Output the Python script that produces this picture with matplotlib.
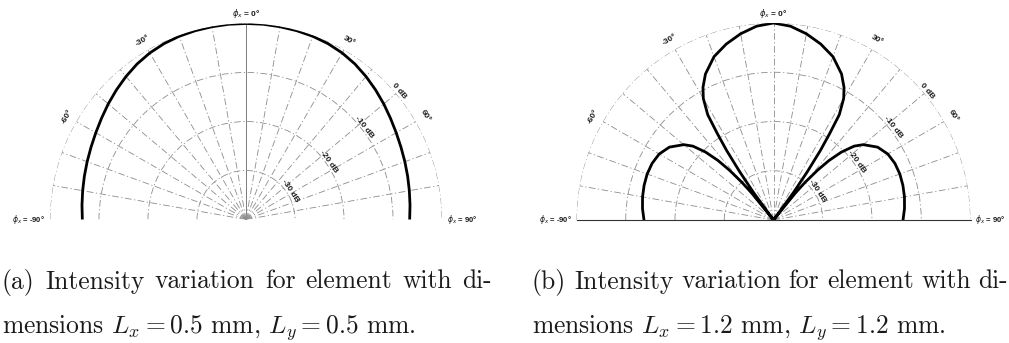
import numpy as np
import matplotlib.pyplot as plt

# (a) element 0.5 mm x 0.5 mm: intensity in dB over phi_x (deg)
angle_a = [-90, -85, -80, -75, -70, -65, -60, -55, -50, -45, -40, -35, -30, -25, -20, -15, -10, -5,
           0, 5, 10, 15, 20, 25, 30, 35, 40, 45, 50, 55, 60, 65, 70, 75, 80, 85, 90]
db_a = [-6.6, -6.4, -6.15, -5.85, -5.5, -5.1, -4.6, -4.0, -3.3, -2.6, -1.9, -1.25, -0.75, -0.4, -0.2, -0.1, -0.05, 0.0,
        0.0, 0.0, -0.05, -0.1, -0.2, -0.4, -0.75, -1.25, -1.9, -2.6, -3.3, -4.0, -4.6, -5.1, -5.5, -5.85, -6.15, -6.4, -6.6]

# (b) element 1.2 mm x 1.2 mm
angle_b = [-90, -85, -80, -75, -70, -65, -60, -55, -50, -47.5, -45, -43, -41.5, -40, -39, -37.5,
           -36, -35, -34, -33, -32, -30, -28, -25, -20, -15, -10, -5,
           0, 5, 10, 15, 20, 25, 28, 30, 32, 33, 34, 35, 36,
           37.5, 39, 40, 41.5, 43, 45, 47.5, 50, 55, 60, 65, 70, 75, 80, 85, 90]
db_b = [-13.7, -13.3, -13.0, -12.8, -12.7, -12.8, -13.2, -14.2, -16.2, -17.8, -20.5, -23.5, -26.5, -30.0, -33.0, -40.0,
        -33.0, -28.0, -23.0, -19.0, -14.8, -11.5, -9.5, -7.3, -4.7, -3.0, -1.6, -0.5,
        0.0, -0.5, -1.6, -3.0, -4.7, -7.3, -9.5, -11.5, -14.8, -19.0, -23.0, -28.0, -33.0,
        -40.0, -33.0, -30.0, -26.5, -23.5, -20.5, -17.8, -16.2, -14.2, -13.2, -12.8, -12.7, -12.8, -13.0, -13.3, -13.7]

ring_db = [-30, -20, -10, 0]
ring_labels = ["-30 dB", "-20 dB", "-10 dB", "0 dB"]
ring_label_deg = [57, 55, 52, 50]
spoke_deg = list(range(-80, 81, 10))
angle_label_deg = [-60, -30, 30, 60]

captions = {
    "a": ["(a) Intensity variation for element with di-",
          r"mensions $L_x = 0.5$ mm, $L_y = 0.5$ mm."],
    "b": ["(b) Intensity variation for element with di-",
          r"mensions $L_x = 1.2$ mm, $L_y = 1.2$ mm."],
}

W, H = 1009, 343
GRID = "#8c8c8c"
LBL = dict(fontsize=6, color="#1a1a1a", family="Liberation Sans", weight="bold",
           math_fontfamily="dejavusans")
SIDE = dict(LBL, fontsize=5.5)


def polar_panel(fig, cx, cy, R, angle, db, baseline):
    # Halbkreis liegt mittig in einer quadratischen Box der Kantenlaenge 2R
    rect = [(cx - R) / W, (H - cy - R / 2) / H, 2 * R / W, 2 * R / H]
    ax = fig.add_axes(rect, projection="polar")
    ax.set_theta_zero_location("N")
    ax.set_theta_direction(-1)
    ax.set_thetamin(-90)
    ax.set_thetamax(90)
    ax.set_ylim(-40, 0)
    ax.set_xticks(np.radians(spoke_deg))
    ax.set_yticks(ring_db)
    ax.set_xticklabels([])
    ax.set_yticklabels([])
    ax.tick_params(length=0)
    ax.grid(True, color=GRID, linestyle=(0, (8, 3, 1.5, 3)), linewidth=0.6)
    ax.yaxis.get_gridlines()[-1].set_color("#555555")
    if not baseline:
        # Mittellinie durchgezogen
        ax.xaxis.get_gridlines()[spoke_deg.index(0)].set_linestyle("-")
        ax.xaxis.get_gridlines()[spoke_deg.index(0)].set_color("#666666")
    ax.spines["polar"].set_visible(False)
    for side in ("start", "end"):
        # Sichtbarkeit setzt PolarAxes selbst, daher ueber Farbe/Breite steuern
        ax.spines[side].set_color("#333333" if baseline else "none")
        ax.spines[side].set_linewidth(0.8 if baseline else 0)

    ax.plot(np.radians(angle), db, color="black", linewidth=2.0)

    ax.text(0, 2.0, r"$\phi_x$ = 0°", ha="center", va="center", **LBL)
    ax.text(np.radians(-90), 1.0, r"$\phi_x$ = -90°", ha="right", va="center", **SIDE)
    ax.text(np.radians(90), 1.0, r"$\phi_x$ = 90°", ha="left", va="center", **SIDE)
    for a in angle_label_deg:
        ax.text(np.radians(a), 2.2, f"{a}°", rotation=-a, rotation_mode="anchor",
                ha="center", va="center", **LBL)
    for r, txt, a in zip(ring_db, ring_labels, ring_label_deg):
        ax.text(np.radians(a), r + 0.7, txt, rotation=-a, rotation_mode="anchor",
                ha="center", va="center", **LBL)
    return ax


def justified_line(fig, x0, y, line, width_px, **kw):
    # Blocksatz: Woerter gleichmaessig auf die Zeilenbreite verteilen
    renderer = fig.canvas.get_renderer()
    words = line.split(" ")
    texts = [fig.text(0, y, w, **kw) for w in words]
    widths = [t.get_window_extent(renderer).width for t in texts]
    gap = (width_px - sum(widths)) / (len(words) - 1)
    x = x0
    for t, w in zip(texts, widths):
        t.set_x(x / W)
        x += w + gap


fig = plt.figure(figsize=(10.09, 3.43), dpi=100)

polar_panel(fig, 246, 219.5, 196, angle_a, db_a, baseline=False)
polar_panel(fig, 773.5, 220, 197, angle_b, db_b, baseline=True)

cap = dict(fontsize=18.4, family="cmr10", math_fontfamily="cm", va="baseline", color="#1a1a1a")
for key, x0, width in (("a", 2, 490), ("b", 532, 476)):
    justified_line(fig, x0, 1 - 288.5 / H, captions[key][0], width, **cap)
    fig.text(x0 / W, 1 - 333 / H, captions[key][1], **cap)

fig.savefig("out.png", dpi=100)
